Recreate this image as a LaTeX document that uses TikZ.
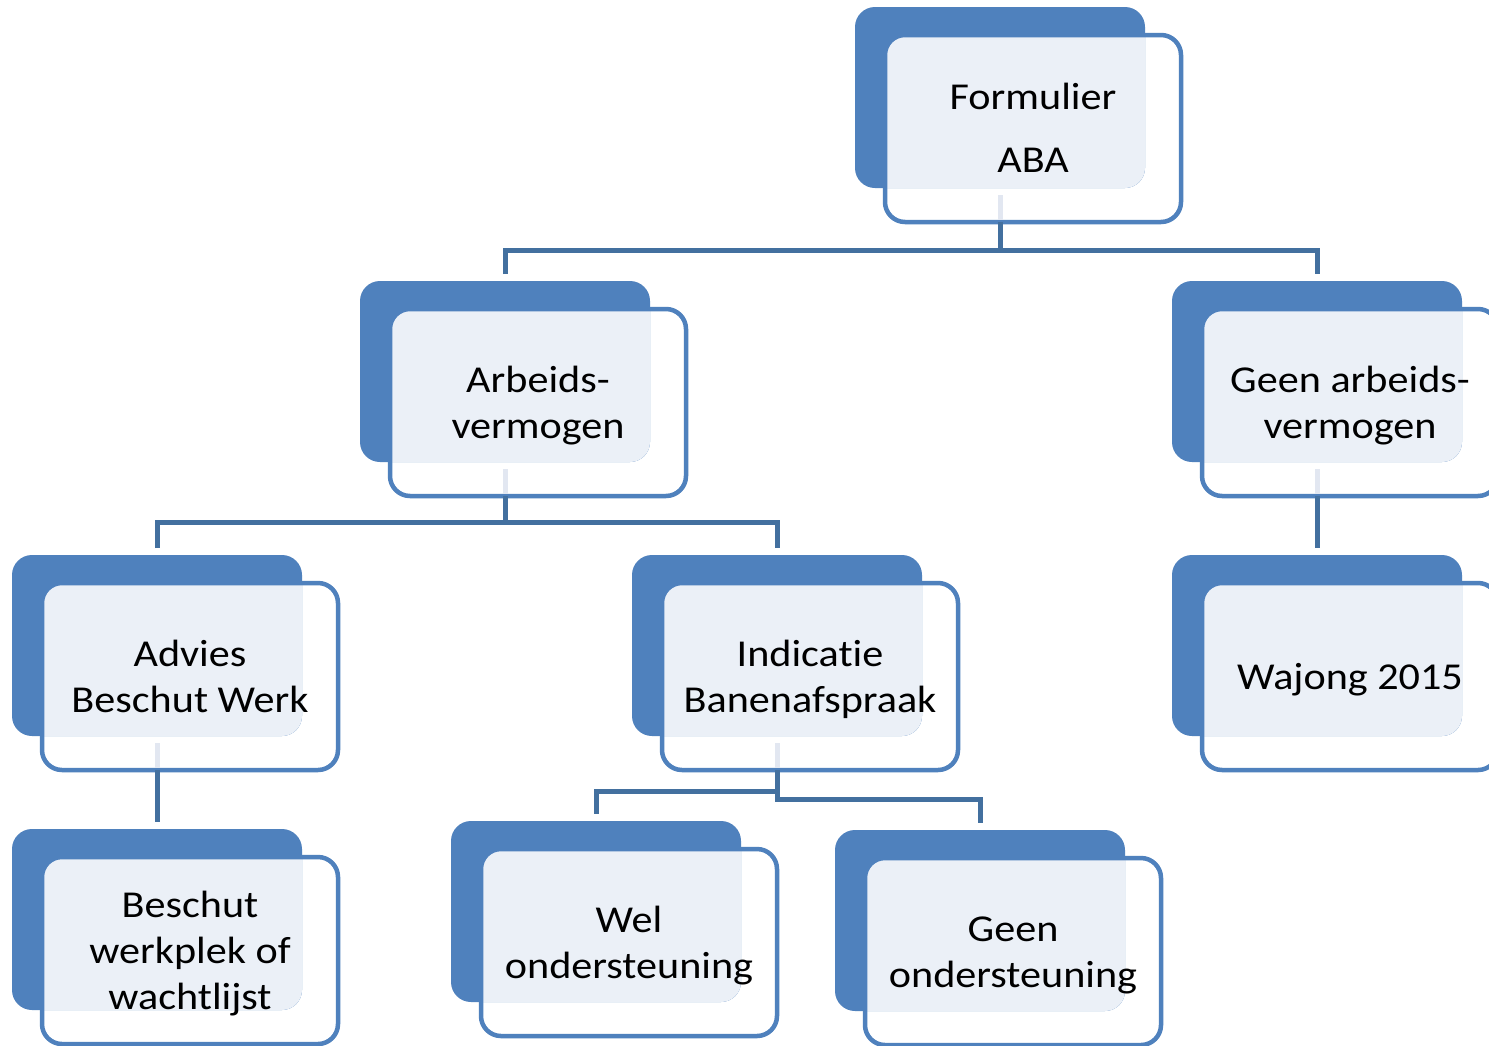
\documentclass[tikz,border=0pt]{standalone}
\usepackage{fontspec}
\setmainfont{Carlito}[FakeStretch=1.11, RawFeature={-liga}]
\definecolor{darkblue}{HTML}{4F81BD}
\definecolor{lightfill}{HTML}{EBF0F7}
\definecolor{connblue}{HTML}{43709F}
\definecolor{faintline}{HTML}{E2E7F1}
\tikzset{
  darkbox/.style={fill=darkblue, rounded corners=20pt},
  outlinebox/.style={draw=darkblue, line width=4.5pt, rounded corners=20pt, minimum width=296pt, minimum height=187pt, inner sep=0pt, anchor=center},
  boxtext/.style={align=center, inner sep=0pt, text depth=0pt, font=\fontsize{38}{46}\selectfont},
  conn/.style={draw=connblue, line width=5pt},
  faint/.style={draw=faintline, line width=5pt}
}
% #1 name, #2 x0, #3 y0, #4 text height, #5 text
\newcommand\orgblk[5]{%
  \fill[darkbox] (#2,#3) rectangle ++(290,181);
  \begin{scope}
    \clip[rounded corners=20pt] (#2,#3) rectangle ++(290,181);
    \fill[lightfill, rounded corners=20pt] (#2+30,#3+28) rectangle (#2+326,#3+215);
  \end{scope}
  \node[outlinebox] (#1) at (#2+178,#3+121.5) {};
  \node[boxtext, text height=#4pt] (#1-text) at (#1.center) {#5};
  \coordinate (#1-top) at (#2+145,#3-7);
  \coordinate (#1-bot) at (#2+145,#3+215);
  \coordinate (#1-fstart) at (#2+145,#3+188);
  \coordinate (#1-fend) at (#2+145,#3+212.5);
}
\begin{document}
\begin{tikzpicture}[x=1pt,y=-1pt]
\useasboundingbox (0,0) rectangle (1489,1045);
\fill[white] (0,0) rectangle (1489,1045);

\orgblk{aba}{855}{7}{88}{Formulier\\[17pt] ABA}
\orgblk{arb}{360}{281}{71}{Arbeids-\\ vermogen}
\orgblk{geenarb}{1172}{281}{71}{Geen arbeids-\\ vermogen}
\orgblk{advies}{12}{555}{71}{Advies\\ Beschut Werk}
\orgblk{indic}{632}{555}{71}{Indicatie\\ Banenafspraak}
\orgblk{wajong}{1172}{555}{25}{Wajong 2015}
\orgblk{beschut}{12}{829}{118}{Beschut\\ werkplek of\\ wachtlijst}
\orgblk{wel}{451}{821}{71}{Wel\\ ondersteuning}
\orgblk{geenond}{835}{830}{71}{Geen\\ ondersteuning}

\foreach \n in {aba,arb,geenarb,advies,indic}
  \draw[faint] (\n-fstart) -- (\n-fend);

\coordinate (j1) at (0,250);
\coordinate (j2) at (0,522);
\coordinate (j3) at (0,791);
\coordinate (j4) at (0,799);

\draw[conn] (aba-bot) -- (aba-bot |- j1);
\draw[conn] (arb-top) -- (arb-top |- j1) -- (geenarb-top |- j1) -- (geenarb-top);
\draw[conn] (arb-bot) -- (arb-bot |- j2);
\draw[conn] (advies-top) -- (advies-top |- j2) -- (indic-top |- j2) -- (indic-top);
\draw[conn] (geenarb-bot) -- (wajong-top);
\draw[conn] (advies-bot) -- (beschut-top);
\draw[conn] (indic-bot) -- (indic-bot |- j3) -- (wel-top |- j3) -- (wel-top);
\draw[conn] (indic-bot |- j3) -- (indic-bot |- j4) -- (geenond-top |- j4) -- (geenond-top);
\end{tikzpicture}
\end{document}
